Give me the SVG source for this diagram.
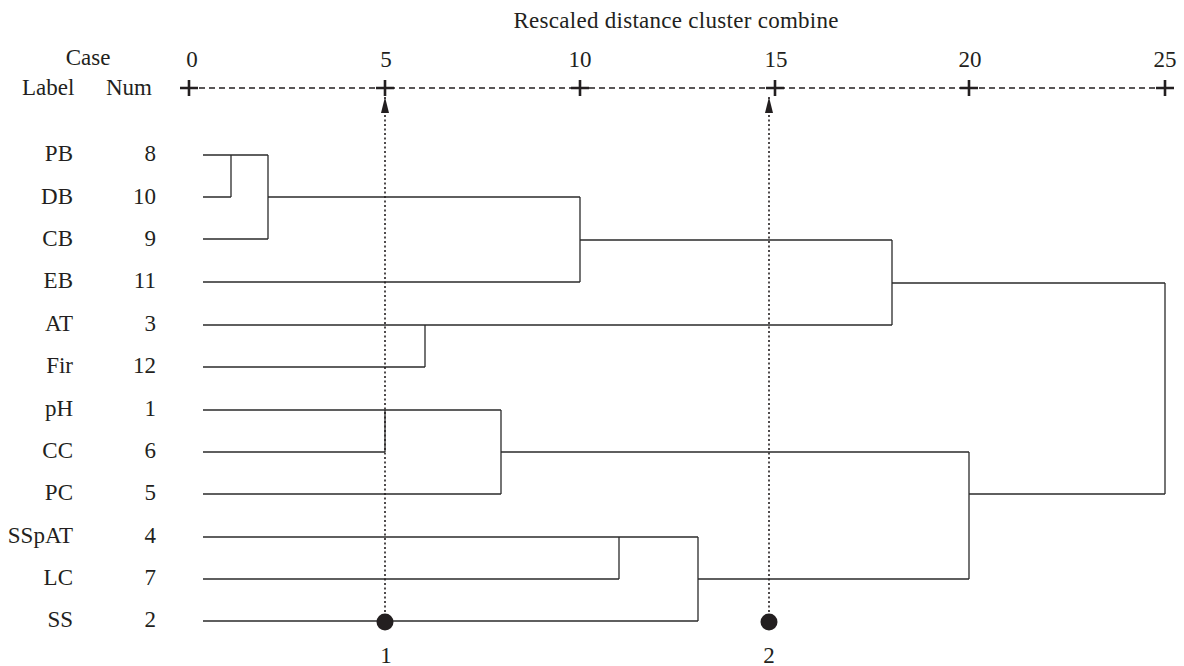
<svg xmlns="http://www.w3.org/2000/svg" width="1184" height="666" viewBox="0 0 1184 666">
  <style>
    text { font-family: "Liberation Serif", "DejaVu Serif", serif; font-size: 23px; fill: #231f20; }
    .lbl { text-anchor: end; }
    .mid { text-anchor: middle; }
    .tree { fill: none; stroke: #2b2b2b; stroke-width: 1.3; }
    .axis { fill: none; stroke: #231f20; stroke-width: 1.3; stroke-dasharray: 6 4; }
    .tick { fill: none; stroke: #231f20; stroke-width: 2.6; }
    .cut { fill: none; stroke: #231f20; stroke-width: 1.6; stroke-dasharray: 2 2.5; }
  </style>
  <defs>
    <marker id="tip" viewBox="0 0 16 8" refX="16" refY="4" markerWidth="16" markerHeight="8" markerUnits="userSpaceOnUse" orient="auto">
      <path d="M0,0 L16,4 L0,8 Z" fill="#231f20"/>
    </marker>
  </defs>

  <!-- axis title and scale -->
  <g id="axis">
    <text class="mid" x="676" y="28" textLength="325">Rescaled distance cluster combine</text>
    <text class="mid" x="88" y="65">Case</text>
    <text x="22" y="95">Label</text>
    <text x="106" y="95">Num</text>
    <text class="mid" x="192" y="67">0</text>
    <text class="mid" x="386" y="67">5</text>
    <text class="mid" x="580" y="67">10</text>
    <text class="mid" x="776" y="67">15</text>
    <text class="mid" x="970" y="67">20</text>
    <text class="mid" x="1165" y="67">25</text>
    <line class="axis" x1="189" y1="88" x2="1165" y2="88"/>
    <path class="tick" d="M180,88 H198 M189,80 V96 M376,88 H394 M385,80 V96 M571,88 H589 M580,80 V96 M766,88 H784 M775,80 V96 M960,88 H978 M969,80 V96 M1156,88 H1174 M1165,80 V96"/>
  </g>

  <!-- case labels -->
  <g id="labels">
    <text class="lbl" x="73" y="161">PB</text><text class="lbl" x="156" y="161">8</text>
    <text class="lbl" x="73" y="204">DB</text><text class="lbl" x="156" y="204">10</text>
    <text class="lbl" x="73" y="246">CB</text><text class="lbl" x="156" y="246">9</text>
    <text class="lbl" x="73" y="288">EB</text><text class="lbl" x="156" y="288">11</text>
    <text class="lbl" x="73" y="331">AT</text><text class="lbl" x="156" y="331">3</text>
    <text class="lbl" x="73" y="373">Fir</text><text class="lbl" x="156" y="373">12</text>
    <text class="lbl" x="73" y="416">pH</text><text class="lbl" x="156" y="416">1</text>
    <text class="lbl" x="73" y="458">CC</text><text class="lbl" x="156" y="458">6</text>
    <text class="lbl" x="73" y="500">PC</text><text class="lbl" x="156" y="500">5</text>
    <text class="lbl" x="73" y="543">SSpAT</text><text class="lbl" x="156" y="543">4</text>
    <text class="lbl" x="73" y="585">LC</text><text class="lbl" x="156" y="585">7</text>
    <text class="lbl" x="73" y="627">SS</text><text class="lbl" x="156" y="627">2</text>
  </g>

  <!-- dendrogram branches -->
  <g id="connectors">
    <!-- PB, DB, CB, EB, AT, Fir -->
    <path class="tree" d="M203,155 H268 M203,197 H231 M231,155 V197 M203,239 H268 M268,155 V239 M268,197 H580"/>
    <path class="tree" d="M203,282 H580 M580,197 V282 M580,240 H892"/>
    <path class="tree" d="M203,325 H892 M203,367 H425 M425,325 V367 M892,240 V325 M892,283 H1165"/>
    <!-- pH, CC, PC -->
    <path class="tree" d="M203,410 H501 M203,452 H385 M385,410 V452 M203,494 H501 M501,410 V494 M501,452 H969"/>
    <!-- SSpAT, LC, SS -->
    <path class="tree" d="M203,537 H698 M203,579 H619 M619,537 V579 M203,621 H698 M698,537 V621 M698,579 H969"/>
    <path class="tree" d="M969,452 V579 M969,494 H1165 M1165,283 V494"/>
  </g>

  <!-- cut levels -->
  <g id="cut1">
    <line class="cut" x1="385" y1="621" x2="385" y2="97" marker-end="url(#tip)"/>
    <circle cx="385" cy="622" r="8.5" fill="#231f20"/>
    <text class="mid" x="386" y="663">1</text>
  </g>
  <g id="cut2">
    <line class="cut" x1="769" y1="621" x2="769" y2="97" marker-end="url(#tip)"/>
    <circle cx="769" cy="622" r="8.5" fill="#231f20"/>
    <text class="mid" x="769" y="663">2</text>
  </g>
</svg>
